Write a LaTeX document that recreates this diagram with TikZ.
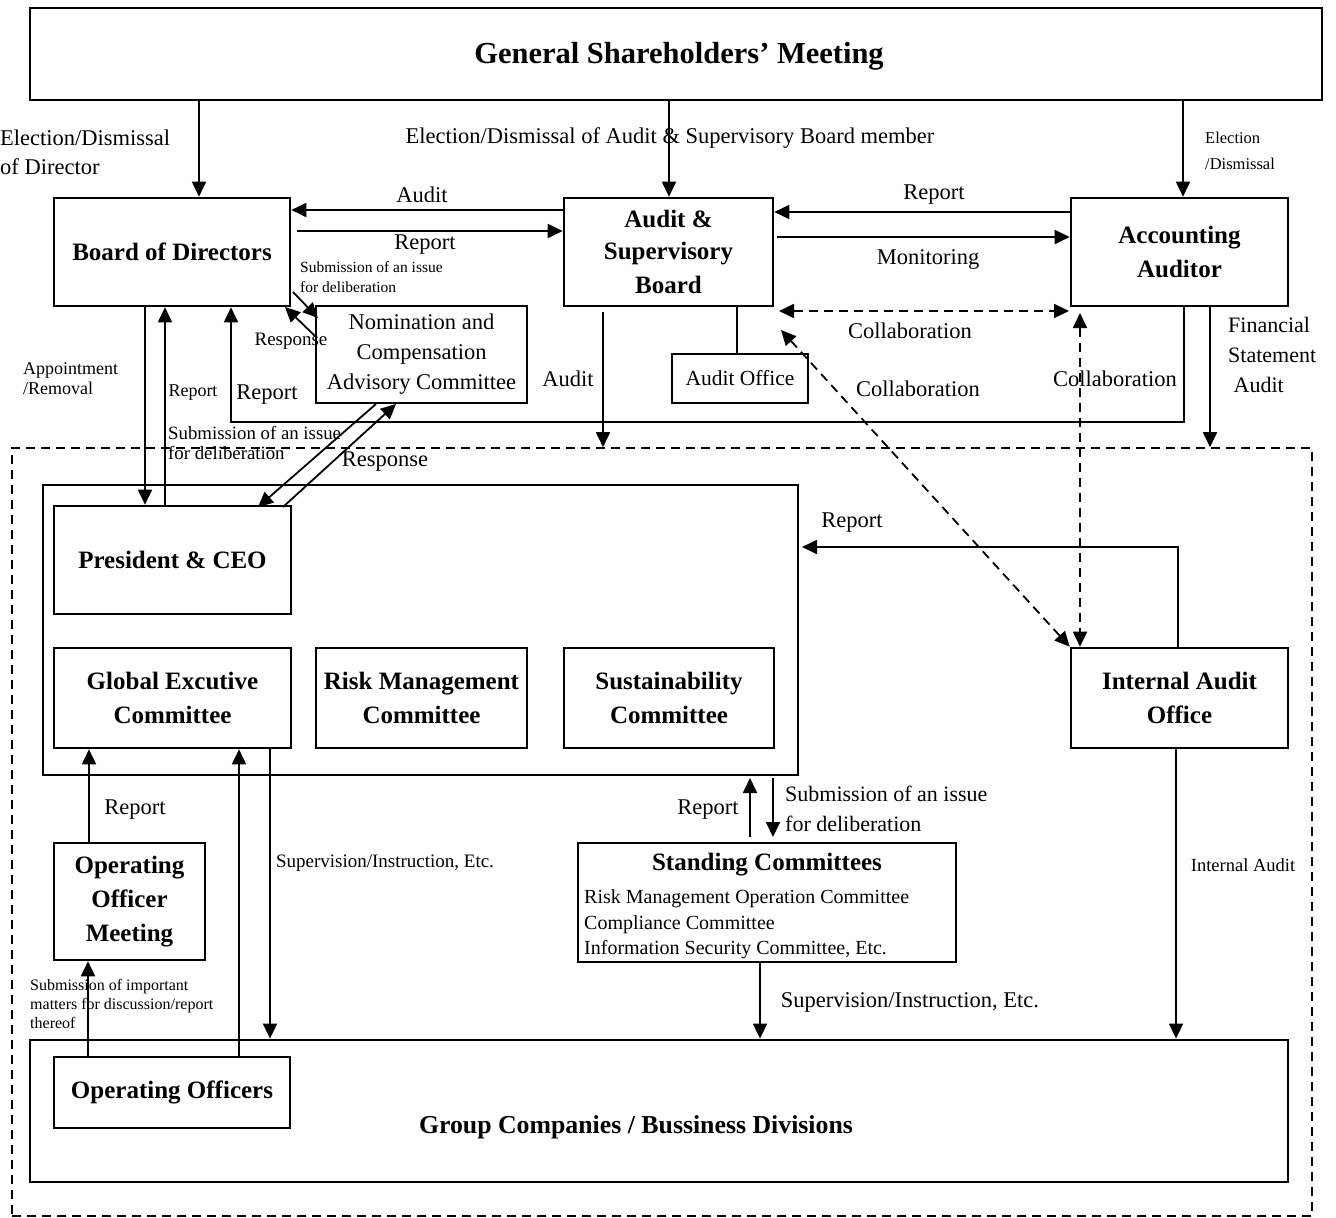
\documentclass[tikz,border=0pt]{standalone}
\usepackage{fontspec}
\setmainfont{Liberation Serif}
\usetikzlibrary{arrows.meta}
\begin{document}
\begin{tikzpicture}[x=1pt,y=-1pt,
  box/.style={draw, line width=2.6pt, inner sep=0pt, align=center, font=\bfseries\fontsize{25}{34}\selectfont},
  plainbox/.style={draw, line width=2.4pt, inner sep=0pt, align=center, font=\fontsize{22.5}{30}\selectfont},
  tip/.tip={Triangle[length=15pt,width=14pt]},
  arr/.style={line width=1.8pt, -tip},
  ln/.style={line width=1.8pt},
  dsh/.style={line width=1.8pt, dash pattern=on 9pt off 6pt},
  lbl/.style={inner sep=0pt, font=\fontsize{22.5}{30}\selectfont, align=left},
  mid/.style={inner sep=0pt, font=\fontsize{18.5}{20}\selectfont, align=left},
  sml/.style={inner sep=0pt, font=\fontsize{16}{20}\selectfont, align=left},
]
\useasboundingbox (0,0) rectangle (1336,1218);

% ---------- boxes ----------
\node[draw, line width=2.6pt, minimum width=1292pt, minimum height=92pt] (gsm) at (676,54) {};
\node[inner sep=0pt, font=\bfseries\fontsize{30.5}{36}\selectfont] (gsmt) at (679,56) {General Shareholders' Meeting};
\node[box, minimum width=236pt, minimum height=108pt] (bod) at (172,252) {\raisebox{-2pt}{Board of Directors}};
\node[box, minimum width=209pt, minimum height=108pt] (asb) at (668.5,252) {\raisebox{-2pt}{Audit \&}\\Supervisory\\Board};
\node[box, minimum width=217pt, minimum height=108pt] (aa) at (1179.5,252) {Accounting\\Auditor};
\node[plainbox, minimum width=211pt, minimum height=97pt] (ncac) at (421.5,354.5) {Nomination and\\Compensation\\Advisory Committee};
\node[plainbox, font=\fontsize{21.5}{30}\selectfont, minimum width=136pt, minimum height=49pt] (aoff) at (740,378.5) {Audit Office};
\node[draw, dsh, line width=1.6pt, minimum width=1300pt, minimum height=768pt] (outer) at (662,832) {};
\node[draw, line width=2pt, minimum width=755pt, minimum height=290pt] (exec) at (420.5,630) {};
\node[box, minimum width=237pt, minimum height=108pt] (pres) at (172.5,560) {President \& CEO};
\node[box, minimum width=237pt, minimum height=100pt] (gec) at (172.5,698) {Global Excutive\\Committee};
\node[box, minimum width=211pt, minimum height=100pt] (rmc) at (421.5,698) {Risk Management\\Committee};
\node[box, minimum width=210pt, minimum height=100pt] (sc) at (669,698) {Sustainability\\Committee};
\node[box, minimum width=217pt, minimum height=100pt] (iao) at (1179.5,698) {Internal Audit\\Office};
\node[box, minimum width=151pt, minimum height=117pt] (oom) at (129.5,901.5) {Operating\\Officer\\Meeting};
\node[draw, line width=2.4pt, minimum width=378pt, minimum height=119pt] (stc) at (767,902.5) {};
\node[draw, line width=2.8pt, minimum width=1258pt, minimum height=142pt] (grp) at (659,1111) {};
\node[box, minimum width=236pt, minimum height=71pt] (oo) at (172,1092.5) {Operating Officers};

\node[inner sep=0pt, font=\bfseries\fontsize{25}{30}\selectfont] (stct) at (767,865) {Standing Committees};
\node[inner sep=0pt, font=\fontsize{20}{25.5}\selectfont, align=left, anchor=west] (stci) at (584,924.5) {Risk Management Operation Committee\\Compliance Committee\\Information Security Committee, Etc.};
\node[inner sep=0pt, font=\bfseries\fontsize{25.8}{30}\selectfont] (grpt) at (636,1127) {Group Companies / Bussiness Divisions};

% ---------- connectors ----------
\draw[arr] (gsm.south -| 199,0) -- (bod.north -| 199,0);
\draw[arr] (gsm.south -| 669,0) -- (asb.north -| 669,0);
\draw[arr] (gsm.south -| 1183,0) -- (aa.north -| 1183,0);

\draw[arr] (asb.west |- 0,210) -- (bod.east |- 0,210);
\draw[arr] (297,231) -- (asb.west |- 0,231);
\draw[arr] (aa.west |- 0,212) -- (asb.east |- 0,212);
\draw[arr] (777,237) -- (aa.west |- 0,237);

\coordinate (ch1) at (779,311);
\coordinate (ch2) at (1069,311);
\draw[dsh, tip-tip] (ch1) -- (ch2);
\coordinate (cd1) at (781,330);
\draw[dsh, tip-tip] (cd1) -- (iao.north west);
\coordinate (cv1) at (1080,313);
\draw[dsh, tip-tip] (cv1) -- (iao.north -| 1080,0);

\coordinate (rp1) at (1184,422);
\coordinate (rp2) at (231,422);
\draw[arr] (aa.south -| 1184,0) -- (rp1) -- (rp2) -- (bod.south -| 231,0);
\draw[arr] (aa.south -| 1210,0) -- (outer.north -| 1210,0);
\coordinate (au1) at (603,312);
\draw[arr] (au1) -- (outer.north -| 603,0);
\draw[ln] (asb.south -| 737,0) -- (aoff.north -| 737,0);

\coordinate (bn1) at (293,292);
\coordinate (bn2) at (318,318);
\draw[arr] (bn1) -- (bn2);
\coordinate (nb1) at (315,336);
\coordinate (nb2) at (285,307);
\draw[arr] (nb1) -- (nb2);

\draw[arr] (bod.south -| 145,0) -- (pres.north -| 145,0);
\draw[arr] (pres.north -| 165,0) -- (bod.south -| 165,0);

\coordinate (np1) at (376,404);
\coordinate (np2) at (258,507);
\draw[arr] (np1) -- (np2);
\coordinate (pn1) at (283,507);
\coordinate (pn2) at (396,404);
\draw[arr] (pn1) -- (pn2);

\coordinate (ir1) at (1178,547);
\coordinate (ir2) at (802,547);
\draw[arr] (iao.north -| 1178,0) -- (ir1) -- (ir2);
\draw[arr] (iao.south -| 1176,0) -- (grp.north -| 1176,0);

\coordinate (sr1) at (750,837);
\coordinate (sr2) at (750,778);
\draw[arr] (sr1) -- (sr2);
\coordinate (ss1) at (773,778);
\coordinate (ss2) at (773,837);
\draw[arr] (ss1) -- (ss2);
\draw[arr] (stc.south -| 760,0) -- (grp.north -| 760,0);

\draw[arr] (oom.north -| 89,0) -- (gec.south -| 89,0);
\draw[arr] (oo.north -| 88,0) -- (oom.south -| 88,0);
\draw[arr] (oo.north -| 239,0) -- (gec.south -| 239,0);
\draw[arr] (gec.south -| 270,0) -- (grp.north -| 270,0);

% ---------- labels ----------
\node[lbl, anchor=west, font=\fontsize{22.5}{29}\selectfont] (l1) at (0,152) {Election/Dismissal\\of Director};
\node[lbl] (l2) at (670,138) {Election/Dismissal of Audit \& Supervisory Board member};
\node[sml, anchor=west, font=\fontsize{16.5}{26}\selectfont] (l3) at (1205,151) {Election\\/Dismissal};
\node[lbl] (l4) at (422,195) {Audit};
\node[lbl] (l5) at (425,245) {Report};
\node[sml, anchor=west, font=\fontsize{15.5}{20}\selectfont] (l6) at (300,277) {Submission of an issue\\for deliberation};
\node[mid, font=\fontsize{19}{20}\selectfont] (l7) at (291,341) {Response};
\node[lbl] (l8) at (934,195) {Report};
\node[lbl] (l9) at (928,259) {Monitoring};
\node[lbl] (l10) at (910,331) {Collaboration};
\node[lbl] (l11) at (918,389) {Collaboration};
\node[lbl] (l12) at (1115,379) {Collaboration};
\node[lbl, anchor=west, font=\fontsize{22}{30}\selectfont] (l13) at (1228,355) {Financial\\Statement\\\ Audit};
\node[lbl] (l14) at (568,379) {Audit};
\node[sml, anchor=west, font=\fontsize{18}{20}\selectfont] (l15) at (23,379) {Appointment\\/Removal};
\node[mid, font=\fontsize{18}{20}\selectfont] (l16) at (193,393) {Report};
\node[lbl] (l17) at (267,395) {Report};
\node[mid, anchor=west, font=\fontsize{18.8}{20}\selectfont] (l18) at (168,443) {Submission of an issue\\for deliberation};
\node[lbl] (l19) at (385,462) {Response};
\node[lbl] (l20) at (852,523) {Report};
\node[lbl] (l21) at (135,810) {Report};
\node[lbl] (l22) at (708,810) {Report};
\node[lbl, anchor=west, font=\fontsize{22}{30}\selectfont] (l23) at (785,809) {Submission of an issue\\for deliberation};
\node[mid, font=\fontsize{19}{20}\selectfont] (l24) at (385,863) {Supervision/Instruction, Etc.};
\node[mid, font=\fontsize{18.5}{20}\selectfont] (l25) at (1243,865) {Internal Audit};
\node[sml, anchor=west, font=\fontsize{16}{19}\selectfont] (l26) at (30,1004) {Submission of important\\matters for discussion/report\\thereof};
\node[lbl] (l27) at (910,1002) {Supervision/Instruction, Etc.};
\end{tikzpicture}
\end{document}
